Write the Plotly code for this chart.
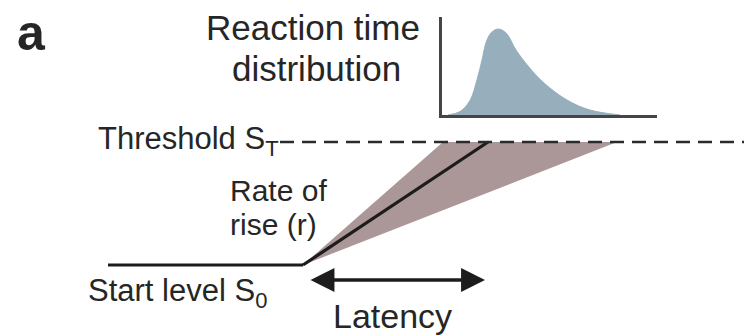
import plotly.graph_objects as go

# ---- Main schematic: time (ms, relative to onset of rise) vs signal level (S0 = 0, ST = 1)
baseline_t = [-195, 0]
baseline_s = [0, 0]
mean_rise_t = [0, 185]
mean_rise_s = [0, 1]
fan_t = [0, 140, 314, 0]
fan_s = [0, 1, 1, 0]
threshold_t = [-23, 441]
threshold_s = [1, 1]
latency_t = [6, 182]
latency_s = -0.122

# ---- Inset: reaction time distribution (ms, normalised density)
rt_ms = [145, 157, 167, 174, 179, 183, 188, 195, 203, 213, 225, 241, 264, 287, 317]
rt_density = [0.0, 0.04, 0.17, 0.41, 0.64, 0.84, 0.955, 1.0, 0.955, 0.756, 0.57, 0.372, 0.174, 0.058, 0.0]

FONT = "Liberation Sans, Arial, sans-serif"
TXT = "#262626"

fig = go.Figure()

fig.add_trace(go.Scatter(x=fan_t, y=fan_s, fill="toself", fillcolor="#ab9797",
                         line=dict(width=0), mode="lines", hoverinfo="skip"))
fig.add_trace(go.Scatter(x=baseline_t, y=baseline_s, mode="lines",
                         line=dict(color="#1c1c1c", width=3.2)))
fig.add_trace(go.Scatter(x=mean_rise_t, y=mean_rise_s, mode="lines",
                         line=dict(color="#1c1c1c", width=3.2)))
fig.add_trace(go.Scatter(x=threshold_t, y=threshold_s, mode="lines",
                         line=dict(color="#2b2b2b", width=2.6, dash="14px,8px")))

fig.add_trace(go.Scatter(x=rt_ms, y=rt_density, mode="lines", fill="tozeroy",
                         fillcolor="#97afbc", line=dict(color="#97afbc", width=1, shape="spline", smoothing=1.0),
                         xaxis="x2", yaxis="y2"))

annotations = [
    dict(x=latency_t[1], y=latency_s, ax=latency_t[0], ay=latency_s, xref="x", yref="y",
         axref="x", ayref="y", text="", showarrow=True, arrowhead=2, arrowside="end+start",
         arrowsize=1.45, arrowwidth=3.3, arrowcolor="#1c1c1c", standoff=0, startstandoff=0),
]

def label(text, x, y, size, xanchor="left", bold=False):
    annotations.append(dict(text=("<b>%s</b>" % text) if bold else text,
                            x=x / 744, y=1 - y / 335, xref="paper", yref="paper",
                            xanchor=xanchor, yanchor="middle", showarrow=False,
                            font=dict(family=FONT, size=size, color=TXT)))

SUB = '<sub><span style="font-size:22px">%s</span></sub>'

label("a", 15, 33, 50, bold=True)
label("Reaction time", 313, 27, 35, xanchor="center")
label("distribution", 316, 68, 35, xanchor="center")
label("Threshold S" + SUB % "T", 96, 141, 31)
label("Rate of", 228, 190, 30)
label("rise (r)", 228, 224, 30)
label("Start level S" + SUB % "0", 86, 293, 31)
label("Latency", 392, 316, 34, xanchor="center")

fig.update_layout(
    width=744, height=335, margin=dict(l=0, r=0, t=0, b=0),
    paper_bgcolor="white", plot_bgcolor="rgba(0,0,0,0)", showlegend=False,
    xaxis=dict(range=[-303, 441], domain=[0, 1], visible=False, fixedrange=True),
    yaxis=dict(range=[-0.569, 2.154], domain=[0, 1], visible=False, fixedrange=True),
    xaxis2=dict(range=[139, 354], domain=[442 / 744, 657 / 744], anchor="y2",
                showline=True, linecolor="#454545", linewidth=2.6, showgrid=False,
                zeroline=False, showticklabels=False, ticks=""),
    yaxis2=dict(range=[0, 1.14], domain=[(335 - 115) / 335, (335 - 17) / 335], anchor="x2",
                showline=True, linecolor="#454545", linewidth=2.6, showgrid=False,
                zeroline=False, showticklabels=False, ticks=""),
    annotations=annotations,
)

fig.write_html("out.html")
